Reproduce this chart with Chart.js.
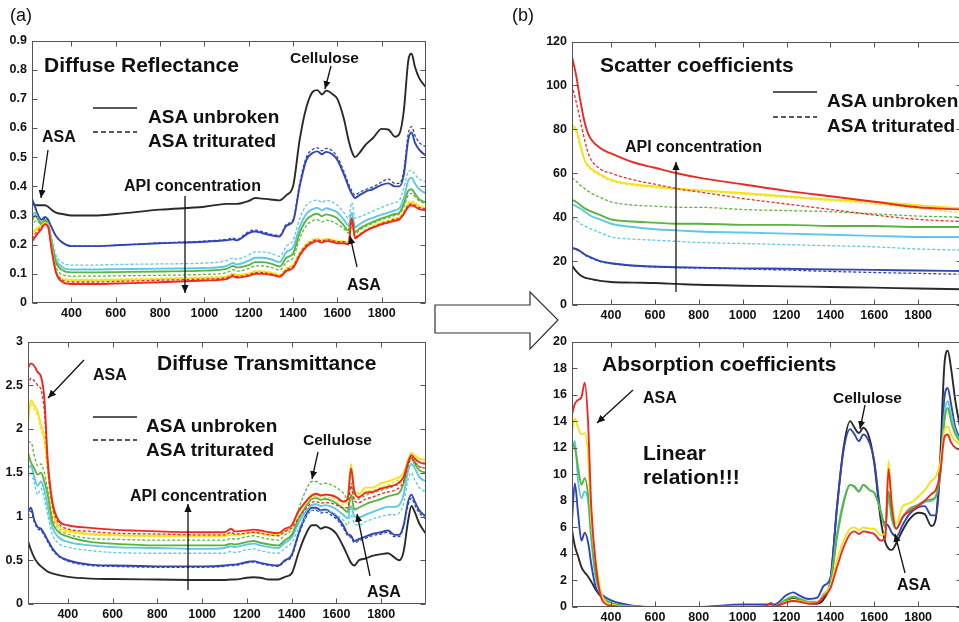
<!DOCTYPE html>
<html><head><meta charset="utf-8">
<script src="https://cdn.jsdelivr.net/npm/chart.js@4.4.0/dist/chart.umd.min.js"></script>
<style>
html,body{margin:0;padding:0;background:#fff;width:959px;height:622px;overflow:hidden;position:relative}
.box{position:absolute}
#notes{position:absolute;left:0;top:0;z-index:5}
</style></head><body>
<div id="p1" class="box"></div>
<div id="p2" class="box"></div>
<div id="p3" class="box"></div>
<div id="p4" class="box"></div>
<svg id="notes" width="959" height="622" font-family="'Liberation Sans', Arial, Helvetica, sans-serif" font-weight="bold" fill="#111">
<defs><marker id="ah" viewBox="0 0 10 10" refX="10" refY="5" markerWidth="8" markerHeight="8" markerUnits="userSpaceOnUse" orient="auto"><path d="M0,0.5 L10,5 L0,9.5 z" fill="#111"/></marker></defs>
<text x="10" y="21" font-weight="normal" font-size="18">(a)</text>
<text x="512" y="21" font-weight="normal" font-size="18">(b)</text>
<polygon points="435,305 530,305 530,292 558,320 530,349 530,333 435,333" fill="#fff" stroke="#333" stroke-width="1.2"/>
<!-- panel 1 -->
<text x="44" y="72" font-size="21">Diffuse Reflectance</text>
<line x1="93" y1="108" x2="137" y2="108" stroke="#222" stroke-width="1.6"/>
<line x1="93" y1="132" x2="137" y2="132" stroke="#222" stroke-width="1.4" stroke-dasharray="5,3"/>
<text x="148" y="123" font-size="19">ASA unbroken</text>
<text x="148" y="147" font-size="19">ASA triturated</text>
<text x="42" y="142" font-size="16">ASA</text>
<line x1="48" y1="150" x2="41" y2="198" stroke="#111" stroke-width="1.3" marker-end="url(#ah)"/>
<text x="290" y="63" font-size="15.5">Cellulose</text>
<line x1="331" y1="66" x2="325" y2="89" stroke="#111" stroke-width="1.3" marker-end="url(#ah)"/>
<text x="124" y="191" font-size="16">API concentration</text>
<line x1="185" y1="196" x2="185" y2="293" stroke="#111" stroke-width="1.3" marker-end="url(#ah)"/>
<text x="347" y="290" font-size="16">ASA</text>
<line x1="357" y1="267" x2="350" y2="236" stroke="#111" stroke-width="1.3" marker-end="url(#ah)"/>
<!-- panel 2 -->
<text x="157" y="370" font-size="21">Diffuse Transmittance</text>
<text x="93" y="380" font-size="16">ASA</text>
<line x1="84" y1="360" x2="48" y2="398" stroke="#111" stroke-width="1.3" marker-end="url(#ah)"/>
<line x1="93" y1="417" x2="137" y2="417" stroke="#222" stroke-width="1.6"/>
<line x1="93" y1="440" x2="137" y2="440" stroke="#222" stroke-width="1.4" stroke-dasharray="5,3"/>
<text x="146" y="432" font-size="19">ASA unbroken</text>
<text x="146" y="456" font-size="19">ASA triturated</text>
<text x="303" y="445" font-size="15.5">Cellulose</text>
<line x1="318" y1="452" x2="312" y2="479" stroke="#111" stroke-width="1.3" marker-end="url(#ah)"/>
<text x="130" y="501" font-size="16">API concentration</text>
<line x1="188" y1="590" x2="188" y2="504" stroke="#111" stroke-width="1.3" marker-end="url(#ah)"/>
<text x="367" y="597" font-size="16">ASA</text>
<line x1="370" y1="576" x2="357" y2="514" stroke="#111" stroke-width="1.3" marker-end="url(#ah)"/>
<!-- panel 3 -->
<text x="600" y="72" font-size="21">Scatter coefficients</text>
<line x1="773" y1="92" x2="817" y2="92" stroke="#222" stroke-width="1.6"/>
<line x1="773" y1="117" x2="817" y2="117" stroke="#222" stroke-width="1.4" stroke-dasharray="5,3"/>
<text x="827" y="107" font-size="19">ASA unbroken</text>
<text x="827" y="131.5" font-size="19">ASA triturated</text>
<text x="625" y="152" font-size="16">API concentration</text>
<line x1="676" y1="292" x2="676" y2="162" stroke="#111" stroke-width="1.3" marker-end="url(#ah)"/>
<!-- panel 4 -->
<text x="602" y="371" font-size="21">Absorption coefficients</text>
<text x="643" y="403" font-size="16">ASA</text>
<line x1="633" y1="390" x2="597" y2="423" stroke="#111" stroke-width="1.3" marker-end="url(#ah)"/>
<text x="643" y="460" font-size="21">Linear</text>
<text x="643" y="484" font-size="21">relation!!!</text>
<text x="833" y="403" font-size="15.5">Cellulose</text>
<line x1="865" y1="405" x2="860" y2="429" stroke="#111" stroke-width="1.3" marker-end="url(#ah)"/>
<text x="897" y="590" font-size="16">ASA</text>
<line x1="905" y1="573" x2="895" y2="534" stroke="#111" stroke-width="1.3" marker-end="url(#ah)"/>
</svg>
<script>
// ---------- data ----------
const X_MIN = 222, X_MAX = 2000;
const X_TICKS = [400, 600, 800, 1000, 1200, 1400, 1600, 1800];

// wavelength grid (nm) for reflectance, transmittance and absorption panels
const WAVELENGTH = [
  222, 235, 250, 265, 280, 295, 310, 330, 360,
  400, 500, 600, 800, 1000, 1100, 1130, 1145,
  1200, 1230, 1260, 1300, 1340, 1370, 1400,
  1430, 1460, 1490, 1510, 1530, 1550, 1580, 1600,
  1630, 1650, 1665, 1680, 1700, 1730, 1760, 1800,
  1830, 1860, 1880, 1900, 1920, 1935, 1950, 1970, 2000];

// (a) Diffuse reflectance
const R_TICKS = [0, 0.1, 0.2, 0.3, 0.4, 0.5, 0.6, 0.7, 0.8, 0.9];
const R_BLACK = [0.345,0.335,0.335,0.335,0.335,0.33,0.32,0.31,0.305, 0.30,0.30,0.305,0.32,0.33,0.34,0.34,0.34, 0.35,0.36,0.358,0.355,0.352,0.37,0.40, 0.56,0.67,0.725,0.73,0.715,0.728,0.715,0.70, 0.63,0.56,0.52,0.50,0.515,0.545,0.565,0.597, 0.595,0.57,0.58,0.66,0.83,0.855,0.81,0.77,0.74];
const R_BLUE = [0.355,0.33,0.30,0.285,0.295,0.285,0.26,0.23,0.207, 0.195,0.195,0.198,0.205,0.21,0.215,0.218,0.215, 0.24,0.245,0.24,0.232,0.228,0.265,0.28, 0.40,0.49,0.515,0.52,0.51,0.518,0.508,0.49, 0.44,0.40,0.375,0.36,0.37,0.383,0.39,0.405, 0.41,0.40,0.40,0.44,0.56,0.585,0.55,0.525,0.505];
const R_BLUE_T = [0.36,0.335,0.30,0.285,0.29,0.283,0.26,0.23,0.207, 0.195,0.195,0.198,0.206,0.212,0.218,0.222,0.218, 0.245,0.25,0.245,0.236,0.232,0.27,0.285, 0.41,0.50,0.527,0.532,0.522,0.53,0.52,0.50, 0.45,0.41,0.385,0.37,0.38,0.39,0.398,0.415, 0.425,0.41,0.41,0.455,0.58,0.605,0.575,0.55,0.535];
const R_CYAN = [0.30,0.31,0.29,0.275,0.285,0.27,0.215,0.15,0.122, 0.115,0.115,0.116,0.118,0.12,0.127,0.137,0.132, 0.145,0.155,0.155,0.15,0.14,0.175,0.19, 0.26,0.305,0.322,0.326,0.318,0.325,0.318,0.31, 0.285,0.265,0.31,0.26,0.27,0.283,0.292,0.303, 0.31,0.318,0.325,0.36,0.42,0.43,0.41,0.39,0.375];
const R_CYAN_T = [0.29,0.30,0.285,0.27,0.28,0.27,0.225,0.165,0.137, 0.13,0.13,0.132,0.134,0.137,0.145,0.155,0.15, 0.165,0.175,0.175,0.17,0.16,0.195,0.215, 0.29,0.335,0.35,0.353,0.345,0.352,0.345,0.335, 0.31,0.29,0.345,0.29,0.295,0.305,0.315,0.328, 0.337,0.345,0.352,0.395,0.45,0.455,0.44,0.425,0.415];
const R_GREEN = [0.28,0.30,0.285,0.27,0.285,0.27,0.205,0.14,0.112, 0.105,0.105,0.106,0.108,0.111,0.117,0.127,0.122, 0.13,0.14,0.14,0.135,0.125,0.155,0.17, 0.24,0.285,0.302,0.306,0.298,0.304,0.298,0.29, 0.265,0.248,0.29,0.243,0.255,0.268,0.278,0.29, 0.298,0.305,0.31,0.34,0.385,0.39,0.375,0.355,0.345];
const R_GREEN_T = [0.26,0.28,0.28,0.265,0.28,0.265,0.195,0.125,0.097, 0.092,0.092,0.093,0.095,0.098,0.104,0.114,0.109, 0.118,0.127,0.127,0.122,0.113,0.14,0.155, 0.22,0.265,0.282,0.286,0.278,0.284,0.278,0.27, 0.255,0.24,0.29,0.236,0.25,0.263,0.273,0.286, 0.293,0.30,0.305,0.33,0.37,0.376,0.365,0.35,0.34];
const R_YELLOW = [0.24,0.25,0.26,0.265,0.275,0.265,0.195,0.11,0.082, 0.078,0.078,0.079,0.082,0.086,0.09,0.10,0.095, 0.10,0.108,0.108,0.103,0.095,0.118,0.13, 0.17,0.20,0.214,0.218,0.213,0.218,0.215,0.21, 0.21,0.205,0.285,0.225,0.235,0.25,0.262,0.275, 0.28,0.288,0.292,0.31,0.34,0.345,0.34,0.33,0.325];
const R_YELLOW_T = [0.23,0.245,0.255,0.262,0.27,0.262,0.19,0.11,0.084, 0.081,0.081,0.082,0.085,0.089,0.093,0.103,0.098, 0.103,0.11,0.11,0.106,0.098,0.121,0.133, 0.175,0.205,0.219,0.222,0.218,0.222,0.219,0.215, 0.213,0.208,0.28,0.228,0.238,0.253,0.265,0.278, 0.284,0.292,0.296,0.315,0.345,0.35,0.345,0.335,0.33];
const R_RED = [0.21,0.225,0.24,0.255,0.27,0.26,0.185,0.105,0.072, 0.065,0.065,0.067,0.071,0.077,0.082,0.092,0.087, 0.093,0.10,0.10,0.097,0.09,0.11,0.12, 0.163,0.193,0.208,0.212,0.207,0.212,0.209,0.205, 0.205,0.20,0.29,0.222,0.232,0.248,0.258,0.27, 0.276,0.282,0.286,0.305,0.33,0.335,0.33,0.322,0.318];
const R_RED_T = [0.22,0.235,0.25,0.26,0.27,0.262,0.19,0.11,0.078, 0.072,0.072,0.074,0.078,0.082,0.087,0.096,0.091, 0.097,0.104,0.104,0.10,0.093,0.114,0.125, 0.168,0.198,0.213,0.217,0.212,0.217,0.214,0.21, 0.21,0.205,0.28,0.226,0.235,0.25,0.26,0.273, 0.28,0.287,0.29,0.31,0.335,0.34,0.335,0.327,0.322];

// (a) Diffuse transmittance
const T_TICKS = [0, 0.5, 1, 1.5, 2, 2.5, 3];
const T_BLACK = [0.72,0.62,0.53,0.47,0.43,0.40,0.37,0.35,0.33, 0.31,0.29,0.285,0.28,0.275,0.275,0.28,0.28, 0.30,0.305,0.30,0.28,0.28,0.31,0.35, 0.58,0.78,0.90,0.90,0.86,0.88,0.85,0.80, 0.66,0.55,0.47,0.44,0.50,0.52,0.55,0.57, 0.58,0.53,0.50,0.60,0.95,1.12,1.05,0.92,0.80];
const T_BLUE = [1.05,1.10,0.96,0.88,0.86,0.80,0.73,0.64,0.55, 0.50,0.45,0.44,0.43,0.43,0.44,0.45,0.45, 0.48,0.49,0.47,0.45,0.44,0.50,0.56, 0.80,1.00,1.10,1.10,1.07,1.08,1.04,1.00, 0.90,0.80,0.78,0.72,0.74,0.77,0.80,0.82, 0.84,0.79,0.79,0.90,1.17,1.25,1.17,1.07,1.00];
const T_BLUE_T = [1.00,1.06,0.94,0.86,0.84,0.78,0.71,0.62,0.54, 0.49,0.44,0.43,0.42,0.42,0.43,0.44,0.44, 0.47,0.48,0.46,0.44,0.43,0.49,0.54, 0.78,0.97,1.07,1.07,1.04,1.05,1.01,0.97, 0.87,0.78,0.76,0.70,0.72,0.75,0.78,0.80, 0.82,0.77,0.77,0.88,1.13,1.21,1.13,1.04,0.97];
const T_CYAN = [1.55,1.58,1.45,1.35,1.40,1.30,1.12,0.88,0.76, 0.71,0.67,0.65,0.64,0.63,0.64,0.66,0.65, 0.68,0.69,0.67,0.65,0.64,0.70,0.76, 0.92,1.05,1.13,1.14,1.12,1.13,1.11,1.08, 1.02,0.98,1.12,1.00,0.99,1.02,1.05,1.09, 1.11,1.11,1.13,1.25,1.52,1.60,1.55,1.45,1.40];
const T_CYAN_T = [1.45,1.50,1.38,1.25,1.32,1.20,1.02,0.80,0.69, 0.65,0.61,0.59,0.58,0.58,0.58,0.60,0.59, 0.62,0.63,0.61,0.59,0.58,0.64,0.70, 0.86,0.99,1.07,1.08,1.06,1.07,1.05,1.02, 0.96,0.90,1.02,0.92,0.90,0.94,0.97,1.00, 1.02,1.02,1.04,1.15,1.42,1.50,1.42,1.33,1.28];
const T_GREEN = [1.73,1.62,1.55,1.48,1.50,1.40,1.25,0.95,0.82, 0.77,0.71,0.69,0.67,0.67,0.67,0.69,0.68, 0.71,0.72,0.70,0.68,0.67,0.73,0.79, 0.97,1.10,1.20,1.21,1.19,1.20,1.18,1.15, 1.09,1.05,1.25,1.08,1.10,1.14,1.17,1.20, 1.23,1.25,1.27,1.38,1.60,1.67,1.60,1.53,1.50];
const T_GREEN_T = [1.85,1.85,1.70,1.58,1.60,1.50,1.30,1.00,0.86, 0.80,0.75,0.74,0.73,0.73,0.73,0.75,0.74, 0.77,0.78,0.76,0.74,0.73,0.79,0.86, 1.08,1.28,1.40,1.40,1.37,1.38,1.36,1.33, 1.27,1.20,1.38,1.20,1.20,1.24,1.27,1.30, 1.32,1.35,1.37,1.45,1.62,1.69,1.63,1.57,1.55];
const T_YELLOW = [2.10,2.33,2.27,2.20,2.05,1.90,1.55,1.10,0.88, 0.84,0.80,0.79,0.78,0.78,0.78,0.80,0.79, 0.81,0.82,0.81,0.79,0.79,0.84,0.88, 1.05,1.15,1.25,1.26,1.24,1.25,1.24,1.22, 1.17,1.20,1.60,1.30,1.26,1.33,1.33,1.38, 1.40,1.43,1.45,1.50,1.65,1.73,1.70,1.66,1.65];
const T_YELLOW_T = [2.05,2.28,2.22,2.15,2.00,1.85,1.50,1.07,0.86, 0.82,0.79,0.78,0.77,0.77,0.77,0.79,0.78, 0.80,0.81,0.80,0.78,0.78,0.83,0.87, 1.03,1.13,1.22,1.23,1.21,1.22,1.21,1.19, 1.14,1.17,1.50,1.25,1.23,1.29,1.30,1.34, 1.36,1.40,1.42,1.47,1.62,1.70,1.67,1.63,1.62];
const T_RED = [2.70,2.75,2.72,2.65,2.60,2.35,1.65,1.18,0.95, 0.90,0.87,0.85,0.83,0.82,0.82,0.86,0.83, 0.84,0.85,0.84,0.82,0.81,0.86,0.90, 1.06,1.16,1.24,1.26,1.24,1.25,1.24,1.22, 1.17,1.20,1.55,1.28,1.22,1.27,1.28,1.32, 1.34,1.36,1.39,1.45,1.62,1.70,1.66,1.62,1.60];
const T_RED_T = [2.50,2.58,2.55,2.50,2.45,2.20,1.58,1.14,0.92, 0.86,0.83,0.81,0.80,0.79,0.79,0.82,0.80, 0.81,0.82,0.81,0.79,0.78,0.83,0.87, 0.98,1.08,1.16,1.17,1.15,1.16,1.15,1.13, 1.10,1.10,1.35,1.18,1.16,1.20,1.22,1.26, 1.28,1.30,1.33,1.40,1.58,1.66,1.62,1.57,1.55];

// (b) Scatter coefficients
const S_WAVELENGTH = [222, 240, 260, 280, 300, 350, 400, 500, 600, 700, 800, 1000, 1200, 1400, 1600, 1800, 2000];
const S_TICKS = [0, 20, 40, 60, 80, 100, 120];
const S_RED = [113,105,93,83,77,71.5,69,65,62.5,60,58,55,52,49.5,47,44.5,43.5];
const S_RED_T = [100,93,84,75,68,62,60,57,55,53,51.5,48.5,46,43.5,41,39,38];
const S_YELLOW = [82,80,73,66,63,59.5,57,55,54,53,52.3,51,49.5,48,47,45.5,44];
const S_YELLOW_T = [81,79,72,65.5,62.5,59,56.5,54.5,53.5,52.5,52,50.5,49,47.5,46,44,42];
const S_GREEN = [48,47,45.5,44,43,41,39,38,37.5,37,37,36.5,36.5,36,36,35.5,35.5];
const S_GREEN_T = [58,56.5,54.5,53,51.5,49,47,45.5,45,44.5,44.5,43.5,43,42.5,41.5,40.5,40];
const S_CYAN = [46,45,44,42.5,41,39,37,35.5,34.5,34,33.5,33,32.5,32,31.5,31,31];
const S_CYAN_T = [39.5,38.5,37,36,35,33,31,30,29.5,29,28.5,28,27.5,27,26.5,25.5,25];
const S_BLUE = [26,25.5,24.5,23,22,20,19,18,17.5,17.2,17,16.7,16.5,16.2,16,15.7,15.5];
const S_BLUE_T = [26,25.3,24.3,22.8,21.8,19.8,18.8,17.8,17.3,17,16.8,16.4,15.9,15.3,14.8,14.4,14];
const S_BLACK = [18,15.5,13.5,12.5,12,11,10.5,10.2,10,9.6,9.2,8.8,8.5,8.2,7.9,7.5,7.2];

// (b) Absorption coefficients
const K_TICKS = [0, 2, 4, 6, 8, 10, 12, 14, 16, 18, 20];
const K_BLACK = [5.8,4.6,3.8,3.0,2.6,2.3,1.9,1.3,0.7, 0.3,0.05,0,0,0.02,0.05,0.05,0.05, 0.5,0.7,0.55,0.3,0.25,0.6,2.0, 7.5,12.0,14.0,13.5,13.1,13.5,12.6,10.8, 6.5,4.9,4.4,4.3,4.8,5.8,6.6,7.1, 7.0,6.1,6.6,11.0,18.3,19.3,18.0,15.5,12.8];
const K_BLUE = [6.5,9.3,7.0,5.0,5.6,4.9,3.2,1.5,0.9, 0.5,0.1,0,0,0.2,0.2,0.2,0.2, 0.9,1.1,0.85,0.6,0.7,1.6,2.2, 7.5,11.8,13.4,13.0,12.5,13.0,12.3,11.0, 7.0,6.3,6.1,5.6,5.3,6.2,7.0,7.5, 7.6,6.9,6.9,10.0,15.8,16.5,15.3,13.5,12.5];
const K_CYAN = [11.8,12.5,9.5,8.2,8.7,8.0,5.0,2.2,0.8, 0.3,0.05,0,0,0.05,0.05,0.05,0.05, 0.6,0.8,0.65,0.4,0.4,1.0,1.8, 5.5,8.0,9.2,9.0,8.7,9.2,8.8,8.6, 7.2,6.0,8.2,6.6,5.9,6.7,7.3,7.6, 7.9,8.0,8.3,10.0,14.5,15.5,14.5,13.2,12.4];
const K_GREEN = [12.3,12.0,10.5,9.2,9.7,8.5,5.5,2.5,0.8, 0.3,0.05,0,0,0.05,0.05,0.1,0.05, 0.55,0.75,0.6,0.35,0.35,0.9,1.7, 5.2,7.8,9.2,9.1,8.7,9.2,8.8,8.6, 7.2,6.0,8.7,6.8,5.9,6.8,7.4,7.7, 8.0,8.1,8.3,10.0,14.0,15.0,14.0,13.0,12.3];
const K_YELLOW = [13.2,14.2,13.5,13.0,13.1,11.5,6.5,3.5,0.8, 0.2,0.02,0,0,0.02,0.02,0.05,0.02, 0.4,0.5,0.45,0.3,0.35,0.9,1.6, 3.5,5.0,5.9,6.0,5.8,6.0,5.9,5.9, 5.4,5.6,11.0,8.0,6.3,7.6,7.8,8.3, 8.8,9.5,9.8,10.8,13.3,13.6,13.0,12.5,12.2];
const K_RED = [14.5,15.3,15.6,15.8,16.9,14.0,7.5,3.3,0.5, 0.1,0,0,0,0,0.05,0.3,0.05, 0.35,0.45,0.4,0.25,0.3,0.8,1.4, 3.0,4.5,5.5,5.7,5.5,5.7,5.6,5.5, 5.0,5.2,10.4,7.6,5.9,6.8,7.2,7.6, 8.0,8.5,8.8,10.0,12.8,13.0,12.4,12.0,11.8];

// ---------- styling ----------
const FONT = "'Liberation Sans', Arial, Helvetica, sans-serif";
const COLORS = {black:'#2a2a2a', blue:'#3245b5', cyan:'#5ec8e5', green:'#5bb43d', yellow:'#f3e31c', red:'#ec2a25'};

const framePlugin = {
  id: 'frame',
  afterDraw(chart) {
    const {ctx, chartArea: a, scales: {x, y}} = chart;
    ctx.save();
    ctx.strokeStyle = '#555';
    ctx.lineWidth = 1;
    const L = Math.round(a.left) + 0.5, R = Math.round(a.right) - 0.5;
    const T = Math.round(a.top) + 0.5, B = Math.round(a.bottom) - 0.5;
    ctx.strokeRect(L, T, R - L, B - T);
    ctx.beginPath();
    x.ticks.forEach(t => {
      const px = Math.round(x.getPixelForValue(t.value)) + 0.5;
      ctx.moveTo(px, B); ctx.lineTo(px, B - 5);
      ctx.moveTo(px, T); ctx.lineTo(px, T + 5);
    });
    y.ticks.forEach(t => {
      const py = Math.round(y.getPixelForValue(t.value)) + 0.5;
      ctx.moveTo(L, py); ctx.lineTo(L + 5, py);
      ctx.moveTo(R, py); ctx.lineTo(R - 5, py);
    });
    ctx.stroke();
    ctx.restore();
  }
};

function makeConfig(xs, list, yTicks) {
  return {
    type: 'line',
    data: {
      datasets: list.map(([vals, col, dashed]) => ({
        data: xs.map((x, i) => ({x: x, y: vals[i]})),
        borderColor: COLORS[col],
        borderWidth: dashed ? 1.3 : 1.9,
        borderDash: dashed ? [3, 2] : [],
        pointRadius: 0,
        fill: false,
        cubicInterpolationMode: 'monotone'
      }))
    },
    options: {
      responsive: false, animation: false, devicePixelRatio: 1,
      layout: {padding: {top: 12, right: 8, bottom: 0, left: 0}},
      plugins: {legend: {display: false}, tooltip: {enabled: false}},
      scales: {
        x: {
          type: 'linear', min: X_MIN, max: X_MAX,
          afterBuildTicks: ax => { ax.ticks = X_TICKS.map(v => ({value: v})); },
          afterFit: ax => { ax.height = 22; },
          grid: {display: false, drawTicks: false}, border: {display: false},
          ticks: {autoSkip: false, maxRotation: 0, padding: 3, color: '#111',
                  font: {family: FONT, size: 12.5, weight: 'bold'},
                  callback: v => String(v)}
        },
        y: {
          type: 'linear', min: yTicks[0], max: yTicks[yTicks.length - 1],
          afterBuildTicks: ax => { ax.ticks = yTicks.map(v => ({value: v})); },
          afterFit: ax => { ax.width = 36; },
          grid: {display: false, drawTicks: false}, border: {display: false},
          ticks: {autoSkip: false, padding: 5, color: '#111',
                  font: {family: FONT, size: 12.5, weight: 'bold'},
                  callback: v => String(v)}
        }
      }
    },
    plugins: [framePlugin]
  };
}

function place(id, rect, xs, list, yTicks) {
  const div = document.getElementById(id);
  const make = (w, h) => {
    div.innerHTML = '';
    const c = document.createElement('canvas');
    c.width = w; c.height = h; c.style.width = w + 'px'; c.style.height = h + 'px';
    div.appendChild(c);
    div.style.width = w + 'px'; div.style.height = h + 'px';
    return new Chart(c, makeConfig(xs, list, yTicks));
  };
  const w0 = 500, h0 = 320;
  let ch = make(w0, h0);
  const a = ch.chartArea;
  const ml = a.left, mt = a.top, mr = w0 - a.right, mb = h0 - a.bottom;
  ch.destroy();
  const w = Math.round(rect.R - rect.L + ml + mr), h = Math.round(rect.B - rect.T + mt + mb);
  ch = make(w, h);
  div.style.left = Math.round(rect.L - ch.chartArea.left) + 'px';
  div.style.top = Math.round(rect.T - ch.chartArea.top) + 'px';
}

place('p1', {L: 32, T: 40, R: 426, B: 302}, WAVELENGTH, [
  [R_RED,'red',false],[R_RED_T,'red',true],[R_YELLOW,'yellow',false],[R_YELLOW_T,'yellow',true],
  [R_GREEN,'green',false],[R_GREEN_T,'green',true],[R_CYAN,'cyan',false],[R_CYAN_T,'cyan',true],
  [R_BLUE,'blue',false],[R_BLUE_T,'blue',true],[R_BLACK,'black',false]], R_TICKS);

place('p2', {L: 28, T: 341, R: 426, B: 603}, WAVELENGTH, [
  [T_RED,'red',false],[T_RED_T,'red',true],[T_YELLOW,'yellow',false],[T_YELLOW_T,'yellow',true],
  [T_GREEN,'green',false],[T_GREEN_T,'green',true],[T_CYAN,'cyan',false],[T_CYAN_T,'cyan',true],
  [T_BLUE,'blue',false],[T_BLUE_T,'blue',true],[T_BLACK,'black',false]], T_TICKS);

place('p3', {L: 572, T: 41, R: 962, B: 304}, S_WAVELENGTH, [
  [S_RED,'red',false],[S_RED_T,'red',true],[S_YELLOW,'yellow',false],[S_YELLOW_T,'yellow',true],
  [S_GREEN,'green',false],[S_GREEN_T,'green',true],[S_CYAN,'cyan',false],[S_CYAN_T,'cyan',true],
  [S_BLUE,'blue',false],[S_BLUE_T,'blue',true],[S_BLACK,'black',false]], S_TICKS);

place('p4', {L: 572, T: 341, R: 962, B: 606}, WAVELENGTH, [
  [K_RED,'red',false],[K_YELLOW,'yellow',false],[K_GREEN,'green',false],
  [K_CYAN,'cyan',false],[K_BLUE,'blue',false],[K_BLACK,'black',false]], K_TICKS);
</script>
</body></html>
